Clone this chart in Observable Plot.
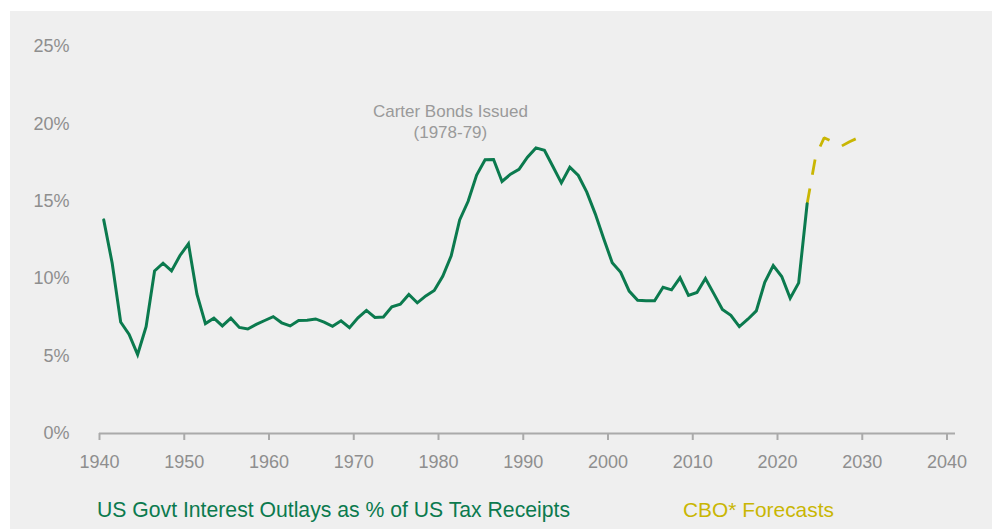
<!DOCTYPE html>
<html>
<head>
<meta charset="utf-8">
<script src="https://cdn.jsdelivr.net/npm/d3@7"></script>
<script src="https://cdn.jsdelivr.net/npm/@observablehq/plot@0.6"></script>
<style>
  html, body { margin: 0; padding: 0; background: #ffffff; }
  #frame {
    position: absolute; left: 10px; top: 11px; width: 982px; height: 518px;
    background: #efefef; overflow: hidden;
    font-family: "Liberation Sans", Arial, Helvetica, sans-serif;
  }
  #chart { position: absolute; left: 0; top: 0; }
  .legend {
    position: absolute; top: 486px; line-height: 26px; white-space: nowrap;
  }
</style>
</head>
<body>
<div id="frame">
  <div id="chart"></div>
  <span class="legend" id="lg1" style="left:87px;color:#0b7a4e;font-size:21.2px">US Govt Interest Outlays as % of US Tax Receipts</span>
  <span class="legend" id="lg2" style="left:673px;color:#c9b603;font-size:20.9px">CBO* Forecasts</span>
</div>
<script>
// Historical fiscal years and interest outlays as % of tax receipts
const years = [
  1940,1941,1942,1943,1944,1945,1946,1947,1948,1949,
  1950,1951,1952,1953,1954,1955,1956,1957,1958,1959,
  1960,1961,1962,1963,1964,1965,1966,1967,1968,1969,
  1970,1971,1972,1973,1974,1975,1976,1977,1978,1979,
  1980,1981,1982,1983,1984,1985,1986,1987,1988,1989,
  1990,1991,1992,1993,1994,1995,1996,1997,1998,1999,
  2000,2001,2002,2003,2004,2005,2006,2007,2008,2009,
  2010,2011,2012,2013,2014,2015,2016,2017,2018,2019,
  2020,2021,2022,2023
];
const interestPct = [
  13.8,11.0,7.2,6.4,5.1,6.9,10.5,11.0,10.5,11.5,
  12.25,9.0,7.1,7.45,6.95,7.45,6.85,6.75,7.05,7.3,
  7.55,7.15,6.95,7.3,7.32,7.4,7.2,6.93,7.28,6.83,
  7.47,7.95,7.5,7.53,8.18,8.35,8.98,8.44,8.89,9.24,
  10.16,11.48,13.8,15.0,16.7,17.68,17.7,16.28,16.75,17.07,
  17.85,18.45,18.3,17.25,16.19,17.2,16.67,15.59,14.19,12.58,
  11.03,10.41,9.2,8.61,8.57,8.57,9.45,9.28,10.06,8.92,
  9.11,10.01,9.02,8.01,7.64,6.91,7.38,7.92,9.77,10.85,
  10.14,8.74,9.73,14.84
];
// CBO forecast years and values
const forecastYears = [2023,2024,2025,2026,2027,2028,2029];
const forecastPct   = [14.84,17.9,19.1,18.85,18.55,18.85,19.1];

// Axis ticks
const yTicks = [0,5,10,15,20,25];
const xTickYears = [1940,1950,1960,1970,1980,1990,2000,2010,2020,2030,2040];

// Annotation
const annotationText = "Carter Bonds Issued\n(1978-79)";
const annotationYear = 1981.4;
const annotationValue = 20.22;

// fiscal-year values are plotted at mid-year
const midYear = y => new Date(Date.UTC(y, 6, 1));
const yearStart = y => new Date(Date.UTC(y, 0, 1));
const fracYear = y => new Date(Date.UTC(Math.floor(y), 0, 1) + (y - Math.floor(y)) * 365.25 * 864e5);

const history = years.map((y, i) => ({date: midYear(y), value: interestPct[i]}));
const forecast = forecastYears.map((y, i) => ({date: midYear(y), value: forecastPct[i]}));

const green = "#0b7a4e";
const yellow = "#c9b603";
const grey = "#8e8e8e";

const chart = Plot.plot({
  width: 982,
  height: 475,
  marginLeft: 89,
  marginRight: 37,
  marginTop: 35,
  marginBottom: 53,
  style: {background: "transparent", fontFamily: "'Liberation Sans', Arial, Helvetica, sans-serif", fontSize: "18px", overflow: "visible"},
  x: {type: "utc", domain: [yearStart(1940), yearStart(2041)]},
  y: {domain: [0, 25]},
  marks: [
    Plot.axisY({ticks: yTicks, tickSize: 0, tickPadding: 30, tickFormat: d => d + "%", fill: grey, fontSize: 18, label: null}),
    Plot.axisX({ticks: xTickYears.map(yearStart), tickSize: 7, tickPadding: 15, stroke: "#aaaaaa", strokeWidth: 2, fill: grey, fontSize: 18, tickFormat: d3.utcFormat("%Y"), label: null}),
    Plot.ruleY([0], {stroke: "#aaaaaa", strokeWidth: 2}),
    Plot.line(forecast, {x: "date", y: "value", stroke: yellow, strokeWidth: 2.8, strokeDasharray: "15.5,14", strokeLinecap: "butt", strokeLinejoin: "miter"}),
    Plot.line(history, {x: "date", y: "value", stroke: green, strokeWidth: 3, strokeLinejoin: "miter", strokeMiterlimit: 4}),
    Plot.text([{date: fracYear(annotationYear), value: annotationValue, label: annotationText}], {x: "date", y: "value", text: "label", fill: "#9a9a9a", fontSize: 17, lineHeight: 1.24})
  ]
});
document.getElementById("chart").appendChild(chart);
</script>
</body>
</html>
